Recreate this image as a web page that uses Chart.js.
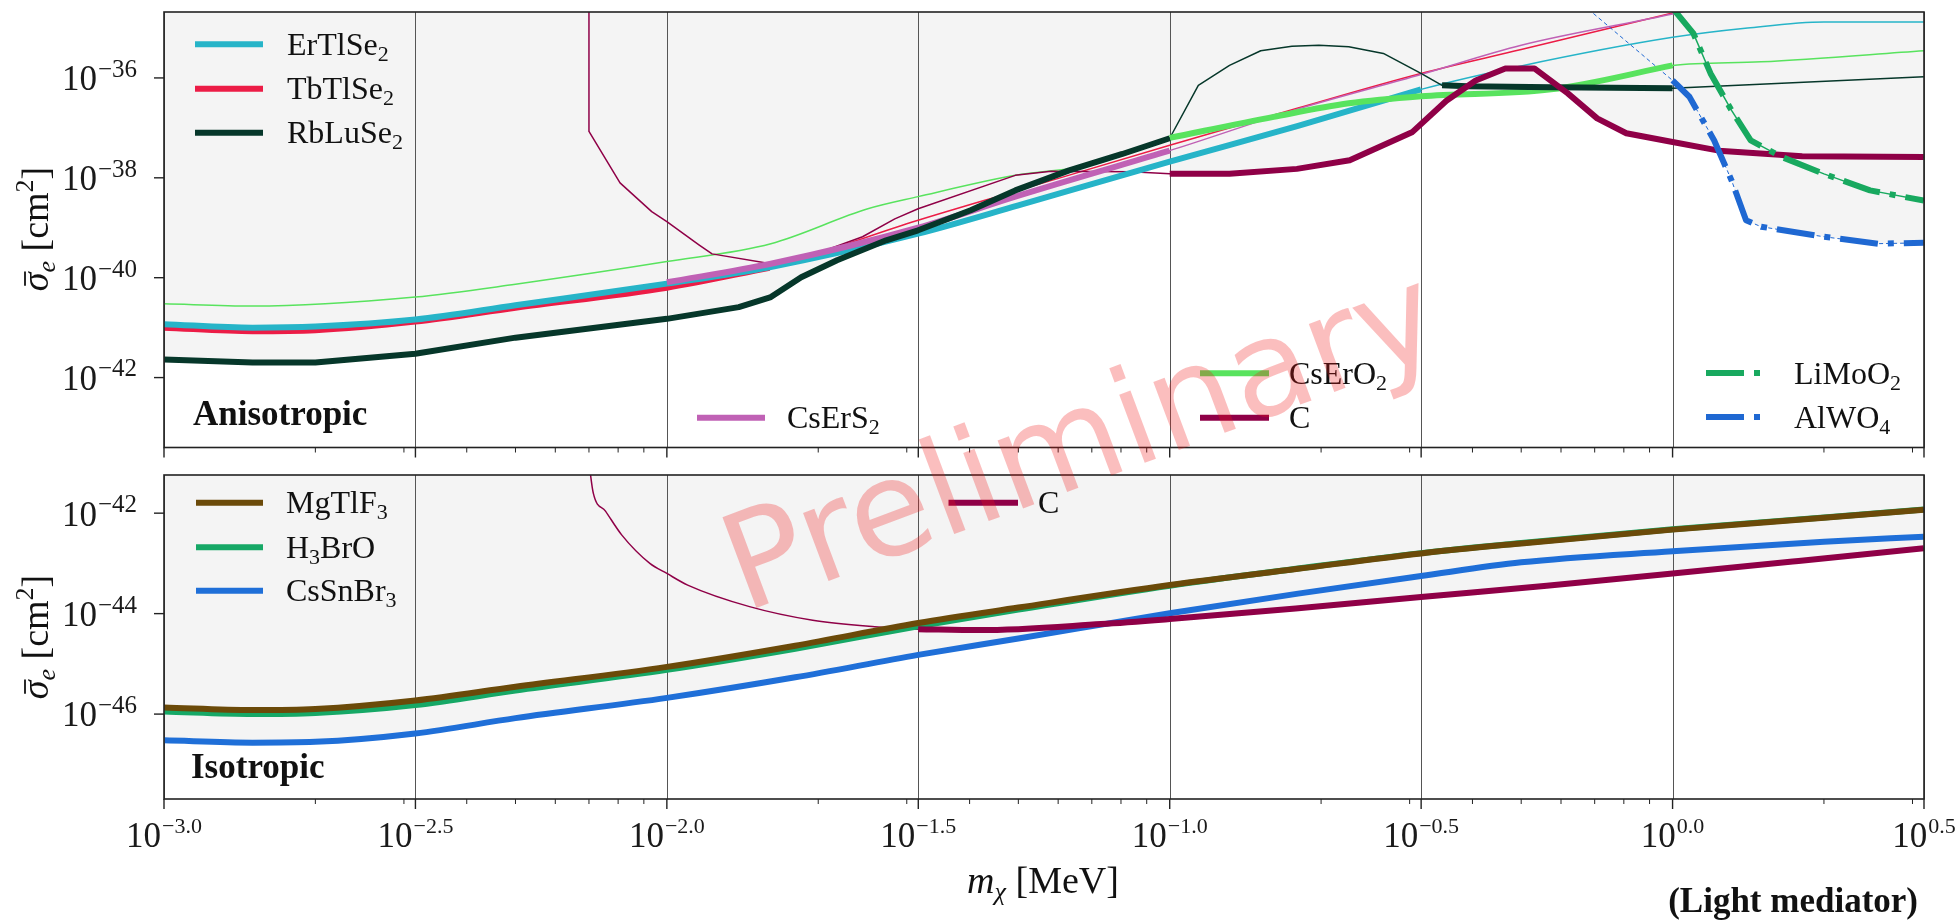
<!DOCTYPE html>
<html>
<head>
<meta charset="utf-8">
<script src="https://cdn.jsdelivr.net/npm/chart.js@4.4.1/dist/chart.umd.min.js"></script>
<style>
  html, body { margin: 0; padding: 0; background: #fff; }
  #fig { position: relative; width: 1957px; height: 921px; overflow: hidden; }
  #aniso, #iso { position: absolute; left: 0; }
  #aniso { top: 0; }
  #iso { top: 461px; }
  #overlay { position: absolute; left: 0; top: 0; pointer-events: none; }
  #overlay text { font-family: "Liberation Serif", "DejaVu Serif", serif; fill: #111; }
</style>
</head>
<body>
<div id="fig">
  <canvas id="aniso" width="1957" height="461" style="width:1957px;height:461px"></canvas>
  <canvas id="iso" width="1957" height="460" style="width:1957px;height:460px"></canvas>
  <svg id="overlay" width="1957" height="921" xmlns="http://www.w3.org/2000/svg">
    <!-- anisotropic legends -->
    <line x1="195" y1="44.3" x2="263" y2="44.3" stroke="#26b4c8" stroke-width="6"/>
    <text x="287" y="55" font-size="32">ErTlSe<tspan font-size="22" dy="6">2</tspan></text>
    <line x1="195" y1="88.7" x2="263" y2="88.7" stroke="#ec1c46" stroke-width="6"/>
    <text x="287" y="99.4" font-size="32">TbTlSe<tspan font-size="22" dy="6">2</tspan></text>
    <line x1="195" y1="132.7" x2="263" y2="132.7" stroke="#06372a" stroke-width="6"/>
    <text x="287" y="143.4" font-size="32">RbLuSe<tspan font-size="22" dy="6">2</tspan></text>

    <line x1="697" y1="417.7" x2="765" y2="417.7" stroke="#c061b5" stroke-width="6"/>
    <text x="787" y="428.4" font-size="32">CsErS<tspan font-size="22" dy="6">2</tspan></text>

    <line x1="1200" y1="373.3" x2="1269" y2="373.3" stroke="#58e35e" stroke-width="6"/>
    <text x="1289" y="384" font-size="32">CsErO<tspan font-size="22" dy="6">2</tspan></text>
    <line x1="1200" y1="417.7" x2="1269" y2="417.7" stroke="#8f0047" stroke-width="6"/>
    <text x="1289" y="428.4" font-size="32">C</text>

    <line x1="1706" y1="373" x2="1766" y2="373" stroke="#18a95f" stroke-width="6" stroke-dasharray="38 10 6 10"/>
    <text x="1794" y="383.7" font-size="32">LiMoO<tspan font-size="22" dy="6">2</tspan></text>
    <line x1="1706" y1="417" x2="1766" y2="417" stroke="#1f68d2" stroke-width="6" stroke-dasharray="38 10 6 10"/>
    <text x="1794" y="427.7" font-size="32">AlWO<tspan font-size="22" dy="6">4</tspan></text>

    <text x="193" y="425" font-size="35" font-weight="bold">Anisotropic</text>

    <!-- isotropic legends -->
    <line x1="196" y1="502.7" x2="263" y2="502.7" stroke="#6b4a09" stroke-width="6"/>
    <text x="286" y="513.4" font-size="32">MgTlF<tspan font-size="22" dy="6">3</tspan></text>
    <line x1="196" y1="547.3" x2="263" y2="547.3" stroke="#16a866" stroke-width="6"/>
    <text x="286" y="558" font-size="32">H<tspan font-size="22" dy="6">3</tspan><tspan dy="-6">BrO</tspan></text>
    <line x1="196" y1="590.7" x2="263" y2="590.7" stroke="#1f6fd8" stroke-width="6"/>
    <text x="286" y="601.4" font-size="32">CsSnBr<tspan font-size="22" dy="6">3</tspan></text>

    <line x1="948.5" y1="502.7" x2="1018" y2="502.7" stroke="#8f0047" stroke-width="6"/>
    <text x="1038" y="513.4" font-size="32">C</text>

    <text x="191" y="778" font-size="35" font-weight="bold">Isotropic</text>

    <!-- axis titles -->
    <g transform="translate(48,229) rotate(-90)">
      <text class="ylab" x="0" y="0" text-anchor="middle" font-size="38"><tspan font-style="italic">σ</tspan><tspan font-style="italic" font-size="26" dy="7">e</tspan><tspan dy="-7">&#160;[cm</tspan><tspan font-size="26" dy="-15">2</tspan><tspan dy="15">]</tspan></text>
    </g>
    <g transform="translate(48,637) rotate(-90)">
      <text class="ylab" x="0" y="0" text-anchor="middle" font-size="38"><tspan font-style="italic">σ</tspan><tspan font-style="italic" font-size="26" dy="7">e</tspan><tspan dy="-7">&#160;[cm</tspan><tspan font-size="26" dy="-15">2</tspan><tspan dy="15">]</tspan></text>
    </g>
    <text x="1043" y="893" text-anchor="middle" font-size="38"><tspan font-style="italic">m</tspan><tspan font-style="italic" font-size="26" dy="7">χ</tspan><tspan dy="-7">&#160;[MeV]</tspan></text>
    <text x="1918" y="912" text-anchor="end" font-size="35" font-weight="bold">(Light mediator)</text>

    <!-- watermark -->
    <text x="1080" y="438" transform="rotate(-20.5 1080 438)" text-anchor="middle" dominant-baseline="central"
          style="font-family:'DejaVu Sans',sans-serif;font-size:133px;fill:rgb(240,20,20);fill-opacity:0.28">Preliminary</text>
  </svg>
</div>
<script>
// axis limits
const massMin = 1e-3;
const massMax = 3.1623;
const sigmaMinAniso = 3.98e-44;
const sigmaMaxAniso = 2.09e-35;
const sigmaMinIso = 2.04e-48;
const sigmaMaxIso = 5.75e-42;

// tick positions and their exponent labels
const massTicks = [1e-3, 3.1623e-3, 1e-2, 3.1623e-2, 0.1, 0.31623, 1, 3.1623];
const massTickExps = ['−3.0', '−2.5', '−2.0', '−1.5', '−1.0', '−0.5', '0.0', '0.5'];
const sigmaTicksAniso = [1e-36, 1e-38, 1e-40, 1e-42];
const sigmaTickExpsAniso = ['−36', '−38', '−40', '−42'];
const sigmaTicksIso = [1e-42, 1e-44, 1e-46];
const sigmaTickExpsIso = ['−42', '−44', '−46'];

// anisotropic targets: [m_chi (MeV), sigma_e (cm^2)]
const erTlSe2 = [[1e-3,1.17e-41],[1.5e-3,1.0e-41],[2e-3,1.05e-41],[3.16e-3,1.45e-41],[5e-3,2.8e-41],[1e-2,7.6e-41],[1.6e-2,1.62e-40],[3.16e-2,7.6e-40],[5e-2,2.8e-39],[0.1,2.1e-38],[0.18,1.1e-37],[0.316,5.9e-37],[0.5,1.74e-36],[1,6.5e-36],[1.41,1.0e-35],[2,1.32e-35],[3.16,1.32e-35]];
const erTlSe2Bold = [1e-3, 0.316];

const tbTlSe2 = [[1e-3,1.0e-41],[1.5e-3,8.5e-42],[2e-3,8.9e-42],[3.16e-3,1.32e-41],[5e-3,2.5e-41],[1e-2,6.3e-41],[1.6e-2,1.58e-40],[3.16e-2,1.41e-39],[5e-2,5.6e-39],[0.1,4.5e-38],[0.18,2.5e-37],[0.316,1.23e-36],[0.5,3.7e-36],[1,2.0e-35],[1.26,3.5e-35]];
const tbTlSe2Bold = [1e-3, 1.6e-2];

const rbLuSe2 = [[1e-3,2.3e-42],[1.5e-3,2.0e-42],[2e-3,2.0e-42],[3.16e-3,3.0e-42],[5e-3,6.3e-42],[1e-2,1.5e-41],[1.39e-2,2.57e-41],[1.61e-2,4.1e-41],[1.85e-2,1.02e-40],[2.18e-2,2.24e-40],[2.73e-2,5.6e-40],[3.16e-2,8.9e-40],[4.02e-2,2.24e-39],[4.93e-2,5.6e-39],[6.31e-2,1.41e-38],[8.05e-2,3.0e-38],[0.1,6.2e-38],[0.114,7.1e-37],[0.1315,1.78e-36],[0.1517,3.5e-36],[0.175,4.3e-36],[0.198,4.5e-36],[0.227,4.2e-36],[0.266,3.1e-36],[0.316,1.23e-36],[0.348,7.1e-37],[0.391,6.8e-37],[0.573,6.5e-37],[1,6.2e-37],[3.16,1.05e-36]];
const rbLuSe2Bold = [[1e-3, 0.1], [0.348, 1]];

const csErS2 = [[1e-2,8.1e-41],[1.61e-2,1.9e-40],[3.16e-2,1.0e-39],[4.93e-2,4.2e-39],[0.1,3.5e-38],[0.18,2.4e-37],[0.316,1.17e-36],[0.5,4.5e-36],[1,1.9e-35],[1.26,3.2e-35]];
const csErS2Bold = [1e-2, 0.1];

const csErO2 = [[1e-3,3.0e-41],[1.5e-3,2.7e-41],[3.16e-3,4.1e-41],[5e-3,7.4e-41],[1e-2,2.1e-40],[1.61e-2,4.8e-40],[2.51e-2,2.4e-39],[3.16e-2,4.2e-39],[4.93e-2,1.12e-38],[7.13e-2,1.9e-38],[0.1,6.3e-38],[0.161,1.66e-37],[0.227,3.1e-37],[0.316,4.3e-37],[0.573,5.9e-37],[1,1.78e-36],[1.5,2.1e-36],[3.16,3.5e-36]];
const csErO2Bold = [0.1, 1];

const carbonAniso = [[7.0e-3,1e-34],[7.0e-3,8.5e-38],[8.07e-3,7.9e-39],[9.33e-3,2.1e-39],[1e-2,1.32e-39],[1.16e-2,4.5e-40],[1.23e-2,3.0e-40],[1.61e-2,1.9e-40],[1.86e-2,2.4e-40],[2.45e-2,6.6e-40],[2.84e-2,1.51e-39],[3.16e-2,2.4e-39],[4.93e-2,1.12e-38],[5.81e-2,1.35e-38],[8.39e-2,1.32e-38],[0.1,1.2e-38],[0.1315,1.2e-38],[0.179,1.51e-38],[0.228,2.24e-38],[0.304,8.3e-38],[0.355,3.5e-37],[0.406,8.9e-37],[0.465,1.55e-36],[0.531,1.55e-36],[0.619,4.9e-37],[0.708,1.55e-37],[0.809,7.8e-38],[1,5.2e-38],[1.236,3.5e-38],[1.81,2.7e-38],[3.16,2.6e-38]];
const carbonAnisoBold = [0.1, 3.16];

const liMoO2 = [[1.0,2.5e-35],[1.10,7.8e-36],[1.19,1.23e-36],[1.31,2.24e-37],[1.43,5.6e-38],[1.65,2.6e-38],[2.0,1.2e-38],[2.47,5.6e-39],[3.16,3.5e-39]];
const liMoO2Bold = [1.0, 3.16];

const alWO4 = [[0.631,4.5e-35],[1.0,8.9e-37],[1.08,4.2e-37],[1.21,5.6e-38],[1.31,8.9e-39],[1.40,1.41e-39],[1.50,1.05e-39],[2.0,6.6e-40],[2.56,4.8e-40],[3.16,5.0e-40]];
const alWO4Bold = [1.0, 3.16];

// isotropic targets
const mgTlF3 = [[1e-3,1.35e-46],[1.5e-3,1.2e-46],[2e-3,1.26e-46],[3.16e-3,1.86e-46],[5e-3,3.5e-46],[1e-2,8.7e-46],[1.8e-2,2.3e-45],[3.16e-2,6.5e-45],[5e-2,1.32e-44],[0.1,3.7e-44],[0.18,7.8e-44],[0.316,1.58e-43],[0.5,2.5e-43],[1,4.7e-43],[2,8.1e-43],[3.16,1.17e-42]];
const h3BrO = [[1e-3,1.12e-46],[1.5e-3,1.0e-46],[2e-3,1.05e-46],[3.16e-3,1.51e-46],[5e-3,2.95e-46],[1e-2,7.6e-46],[1.8e-2,2.0e-45],[3.16e-2,5.6e-45],[5e-2,1.2e-44],[0.1,3.6e-44],[0.18,7.9e-44],[0.316,1.6e-43],[0.5,2.55e-43],[1,4.8e-43],[2,8.2e-43],[3.16,1.18e-42]];
const csSnBr3 = [[1e-3,3.0e-47],[1.5e-3,2.7e-47],[2e-3,2.8e-47],[3.16e-3,4.1e-47],[5e-3,8.3e-47],[1e-2,2.1e-46],[1.8e-2,5.4e-46],[3.16e-2,1.51e-45],[5e-2,3.2e-45],[0.1,1.02e-44],[0.18,2.5e-44],[0.316,5.6e-44],[0.5,1.05e-43],[1,1.74e-43],[2,2.7e-43],[3.16,3.4e-43]];
const carbonIso = [[7.0e-3,1e-41],[7.14e-3,2.5e-42],[7.55e-3,1.1e-42],[8.13e-3,3.7e-43],[9.25e-3,1.0e-43],[1e-2,6.3e-44],[1.1e-2,3.7e-44],[1.46e-2,1.38e-44],[1.95e-2,7.4e-45],[2.59e-2,5.5e-45],[3.16e-2,4.9e-45],[4.19e-2,4.7e-45],[7.3e-2,6.2e-45],[0.1,7.8e-45],[0.178,1.26e-44],[0.316,2.14e-44],[0.562,3.6e-44],[1,6.3e-44],[1.78,1.12e-43],[3.16,2.0e-43]];
const carbonIsoBold = [3.16e-2, 3.16];

const SHADE = '#f4f4f4';
const DASHDOT = [38, 10, 6, 10];
const SMOOTH = { cubicInterpolationMode: 'monotone' };

function pts(curve, range) {
  const list = range ? curve.filter(p => p[0] >= range[0] && p[0] <= range[1]) : curve;
  return list.map(p => ({ x: p[0], y: p[1] }));
}

// thin line over the whole curve
function thin(curve, color, extra) {
  return Object.assign({ data: pts(curve), borderColor: color, borderWidth: 1.5, fill: false, clip: 0 }, extra);
}

// thick part, shaded up to the top of the panel
function thick(curve, range, color, extra) {
  return Object.assign({ data: pts(curve, range), borderColor: color, borderWidth: 6, fill: 'end', backgroundColor: SHADE, clip: 0 }, extra);
}

// later entries are drawn on top
function ordered(list) {
  return list.map((d, i) => Object.assign(d, { order: list.length - i }));
}

const anisoSets = ordered([
  thin(csErO2, '#58e35e', SMOOTH),
  thin(tbTlSe2, '#ec1c46', SMOOTH),
  thin(csErS2, '#c061b5', SMOOTH),
  thin(erTlSe2, '#26b4c8', SMOOTH),
  thin(rbLuSe2, '#06372a'),
  thin(carbonAniso, '#8f0047'),
  thin(alWO4, '#1f68d2', { borderWidth: 1, borderDash: [4, 3] }),
  thin(liMoO2, '#18a95f'),
  thick(tbTlSe2, tbTlSe2Bold, '#ec1c46', SMOOTH),
  thick(erTlSe2, erTlSe2Bold, '#26b4c8', SMOOTH),
  thick(csErS2, csErS2Bold, '#c061b5', SMOOTH),
  thick(csErO2, csErO2Bold, '#58e35e', SMOOTH),
  thick(rbLuSe2, rbLuSe2Bold[0], '#06372a'),
  thick(rbLuSe2, rbLuSe2Bold[1], '#06372a'),
  thick(carbonAniso, carbonAnisoBold, '#8f0047'),
  thick(liMoO2, liMoO2Bold, '#18a95f', { borderDash: DASHDOT }),
  thick(alWO4, alWO4Bold, '#1f68d2', { borderDash: DASHDOT })
]);

const isoSets = ordered([
  thin(carbonIso, '#8f0047', SMOOTH),
  thick(h3BrO, null, '#16a866', SMOOTH),
  thick(mgTlF3, null, '#6b4a09', SMOOTH),
  thick(csSnBr3, null, '#1f6fd8', SMOOTH),
  thick(carbonIso, carbonIsoBold, '#8f0047', SMOOTH)
]);

const FONT = '"Liberation Serif", "DejaVu Serif", serif';

function drawPow(ctx, x, base, exp, align, expSize, raise) {
  ctx.font = '35px ' + FONT;
  const w1 = ctx.measureText('10').width;
  ctx.font = expSize + 'px ' + FONT;
  const w2 = ctx.measureText(exp).width;
  const x0 = align === 'right' ? x - w1 - w2 - 1 : x - (w1 + w2 + 1) / 2;
  ctx.textAlign = 'left';
  ctx.textBaseline = 'alphabetic';
  ctx.font = '35px ' + FONT;
  ctx.fillText('10', x0, base);
  ctx.font = expSize + 'px ' + FONT;
  ctx.fillText(exp, x0 + w1 + 1, base - raise);
}

function seg(ctx, x1, y1, x2, y2) {
  ctx.beginPath();
  ctx.moveTo(x1, y1);
  ctx.lineTo(x2, y2);
  ctx.stroke();
}

const decorPlugin = {
  id: 'decor',
  // vertical grid sits above the shading but under the curves
  beforeDatasetsDraw(chart) {
    const { ctx, chartArea: a } = chart;
    const x = chart.scales.x;
    ctx.save();
    ctx.strokeStyle = '#555';
    ctx.lineWidth = 1;
    massTicks.forEach(v => {
      const px = Math.round(x.getPixelForValue(v)) + 0.5;
      seg(ctx, px, a.top, px, a.bottom);
    });
    ctx.restore();
  },
  afterDraw(chart, args, opts) {
    const { ctx, chartArea: a } = chart;
    const x = chart.scales.x, y = chart.scales.y;
    ctx.save();
    ctx.strokeStyle = '#222';
    ctx.fillStyle = '#1a1a1a';
    ctx.lineWidth = 1.6;
    ctx.strokeRect(a.left, a.top, a.right - a.left, a.bottom - a.top);

    ctx.lineWidth = 1.4;
    massTicks.forEach(v => {
      const px = x.getPixelForValue(v);
      seg(ctx, px, a.bottom, px, a.bottom + 10);
    });
    ctx.lineWidth = 1;
    for (let d = -3; d <= 0; d++) {
      for (let k = 2; k <= 9; k++) {
        const v = k * Math.pow(10, d);
        if (v >= massMax) continue;
        const px = x.getPixelForValue(v);
        seg(ctx, px, a.bottom, px, a.bottom + 5);
      }
    }

    ctx.lineWidth = 1.4;
    opts.yTicks.forEach((v, i) => {
      const py = y.getPixelForValue(v);
      seg(ctx, a.left - 10, py, a.left, py);
      drawPow(ctx, a.left - 27, py + 12.4, opts.yExps[i], 'right', 25, 13.5);
    });

    if (opts.xLabels) {
      massTicks.forEach((v, i) => drawPow(ctx, x.getPixelForValue(v), a.bottom + 48, massTickExps[i], 'center', 22, 14));
    }
    ctx.restore();
  }
};

function makeChart(id, datasets, yMin, yMax, padding, decor) {
  return new Chart(document.getElementById(id), {
    type: 'line',
    data: { datasets },
    options: {
      responsive: false,
      animation: false,
      events: [],
      devicePixelRatio: 1,
      layout: { padding },
      elements: {
        point: { radius: 0 },
        line: { tension: 0, borderJoinStyle: 'round', borderCapStyle: 'butt' }
      },
      scales: {
        x: { type: 'logarithmic', display: false, min: massMin, max: massMax },
        y: { type: 'logarithmic', display: false, min: yMin, max: yMax }
      },
      plugins: {
        legend: { display: false },
        tooltip: { enabled: false },
        filler: { drawTime: 'beforeDatasetsDraw' },
        decor
      }
    },
    plugins: [decorPlugin]
  });
}

makeChart('aniso', anisoSets, sigmaMinAniso, sigmaMaxAniso,
  { left: 164, right: 33, top: 12, bottom: 13.5 },
  { yTicks: sigmaTicksAniso, yExps: sigmaTickExpsAniso, xLabels: false });

makeChart('iso', isoSets, sigmaMinIso, sigmaMaxIso,
  { left: 164, right: 33, top: 14, bottom: 122 },
  { yTicks: sigmaTicksIso, yExps: sigmaTickExpsIso, xLabels: true });

// bar over the sigma in the axis titles
document.querySelectorAll('.ylab').forEach(t => {
  const e = t.getExtentOfChar(0);
  const bar = document.createElementNS('http://www.w3.org/2000/svg', 'line');
  bar.setAttribute('x1', e.x + e.width * 0.3);
  bar.setAttribute('x2', e.x + e.width * 1.05);
  bar.setAttribute('y1', -23);
  bar.setAttribute('y2', -23);
  bar.setAttribute('stroke', '#111');
  bar.setAttribute('stroke-width', 1.8);
  t.parentNode.appendChild(bar);
});
</script>
</body>
</html>
